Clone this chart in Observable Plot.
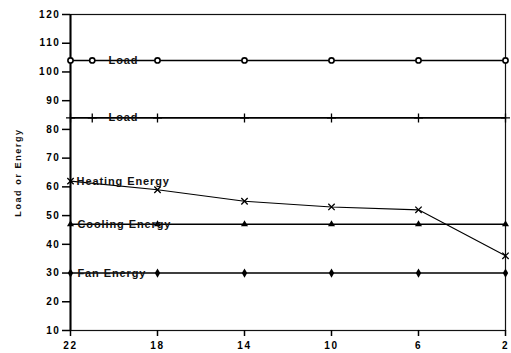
<!DOCTYPE html>
<html><head><meta charset="utf-8">
<script src="https://cdn.jsdelivr.net/npm/d3@7"></script>
<script src="https://cdn.jsdelivr.net/npm/@observablehq/plot@0.6"></script>
<style>
body{margin:0;background:#fff;}
svg text{letter-spacing:1.6px;}
svg g.lbl text{letter-spacing:0.9px;}
</style></head><body><div id="chart"></div>
<script>
const xTicks = [22, 18, 14, 10, 6, 2];
const yTicks = [10, 20, 30, 40, 50, 60, 70, 80, 90, 100, 110, 120];
const loadCircleX = [22, 21, 18, 14, 10, 6, 2];
const loadCircleY = [104, 104, 104, 104, 104, 104, 104];
const loadPlusX = [22, 21, 18, 14, 10, 6, 2];
const loadPlusY = [84, 84, 84, 84, 84, 84, 84];
const heatingX = [22, 18, 14, 10, 6, 2];
const heatingY = [62, 59, 55, 53, 52, 36];
const coolingX = [22, 18, 14, 10, 6, 2];
const coolingY = [47, 47, 47, 47, 47, 47];
const fanX = [22, 18, 14, 10, 6, 2];
const fanY = [30, 30, 30, 30, 30, 30];
const labelText = ["Load", "Load", "Heating Energy", "Cooling Energy", "Fan Energy"];
const labelX = [20.25, 20.25, 21.72, 21.68, 21.68];
const labelY = [104, 84, 62, 47, 30];
const yLabel = "Load or Energy";

const pts = (xs, ys) => xs.map((x, i) => ({x, y: ys[i]}));
const loadC = pts(loadCircleX, loadCircleY);
const loadP = pts(loadPlusX, loadPlusY);
const heat = pts(heatingX, heatingY);
const cool = pts(coolingX, coolingY);
const fan = pts(fanX, fanY);
const labels = labelText.map((t, i) => ({t, x: labelX[i], y: labelY[i]}));

const chart = Plot.plot({
  width: 511, height: 353,
  marginLeft: 70, marginRight: 6, marginTop: 14, marginBottom: 23,
  x: {domain: [22, 2]},
  y: {domain: [10, 120]},
  style: {fontFamily: "'Liberation Sans', Arial, sans-serif", fontSize: "10px", fontWeight: "bold", color: "#000", background: "#fff"},
  marks: [
    Plot.frame({stroke: "#111", strokeWidth: 1.2}),
    Plot.axisX(xTicks, {tickSize: 6, tickPadding: 5, label: null, strokeWidth: 1.5}),
    Plot.axisY(yTicks, {tickSize: 8, tickPadding: 2, label: null, strokeWidth: 1.5}),
    Plot.ruleX([22], {stroke: "#000", strokeWidth: 2}),
    Plot.line(loadC, {x: "x", y: "y", stroke: "#000", strokeWidth: 1.6}),
    Plot.line(loadP, {x: "x", y: "y", stroke: "#000", strokeWidth: 1.6}),
    Plot.line(heat, {x: "x", y: "y", stroke: "#000", strokeWidth: 1.1}),
    Plot.line(cool, {x: "x", y: "y", stroke: "#000", strokeWidth: 1.5}),
    Plot.line(fan, {x: "x", y: "y", stroke: "#000", strokeWidth: 1.5}),
    Plot.dot(loadC, {x: "x", y: "y", symbol: "circle", r: 2.6, stroke: "#000", strokeWidth: 1.6, fill: "#fff"}),
    Plot.dot(loadP, {x: "x", y: "y", symbol: "plus", r: 3, stroke: "#000", strokeWidth: 1.3}),
    Plot.dot(heat, {x: "x", y: "y", symbol: "times", r: 3, stroke: "#000", strokeWidth: 1.3}),
    Plot.dot(cool, {x: "x", y: "y", symbol: "triangle", r: 2.6, fill: "#000", stroke: "none"}),
    Plot.dot(fan, {x: "x", y: "y", symbol: "diamond", r: 2.8, fill: "#000", stroke: "none"}),
    Plot.text(labels, {x: "x", y: "y", text: "t", textAnchor: "start", fontSize: 11, fontWeight: "bold", fill: "#111", className: "lbl"}),
    Plot.text([yLabel], {frameAnchor: "left", textAnchor: "middle", text: d => d, rotate: -90, dx: -52, fontSize: 9, fontWeight: "bold", fill: "#111"})
  ]
});
document.getElementById("chart").appendChild(chart);
</script></body></html>
